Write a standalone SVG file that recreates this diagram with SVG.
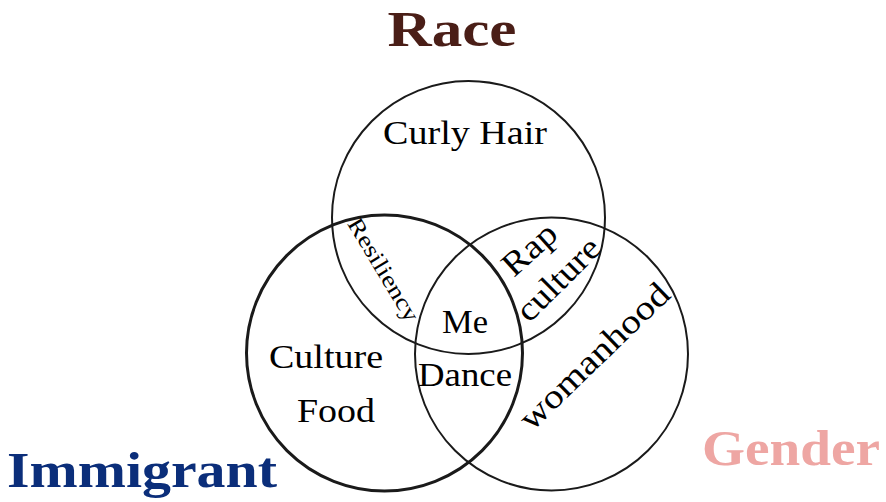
<svg xmlns="http://www.w3.org/2000/svg" width="886" height="502" viewBox="0 0 886 502">
<style>
.c{fill:none;stroke:#1a1a1a}
.t{font-family:"Liberation Serif","Times New Roman",serif;font-size:34px;fill:#000;text-anchor:middle}
.h{font-family:"Liberation Serif","Times New Roman",serif;font-weight:bold;font-size:51px;text-anchor:middle}
</style>
<rect width="886" height="502" fill="#fff"/>
<g id="circles">
<g id="race-circle"><circle class="c" cx="468.5" cy="217.5" r="136.5" stroke-width="2"/></g>
<g id="gender-circle"><circle class="c" cx="551.5" cy="354" r="136.5" stroke-width="2"/></g>
<g id="immigrant-circle"><circle class="c" cx="384.5" cy="353" r="138" stroke-width="3"/></g>
</g>
<g id="connectors"></g>
<g id="titles">
<text id="race" class="h" x="452" y="46" fill="#4a1e17" textLength="129" lengthAdjust="spacingAndGlyphs">Race</text>
<text id="immigrant" class="h" x="142" y="487" fill="#0b2e7a" textLength="270" lengthAdjust="spacingAndGlyphs">Immigrant</text>
<text id="gender" class="h" x="791" y="465" fill="#eea6a3" textLength="178" lengthAdjust="spacingAndGlyphs">Gender</text>
</g>
<g id="labels">
<text class="t" x="465" y="144" textLength="164" lengthAdjust="spacingAndGlyphs">Curly Hair</text>
<text class="t" x="465" y="333" textLength="46" lengthAdjust="spacingAndGlyphs">Me</text>
<text class="t" x="465" y="386" textLength="94" lengthAdjust="spacingAndGlyphs">Dance</text>
<text class="t" x="326" y="368" textLength="114" lengthAdjust="spacingAndGlyphs">Culture</text>
<text class="t" x="336" y="422" textLength="78" lengthAdjust="spacingAndGlyphs">Food</text>
<text class="t" transform="translate(383,270) rotate(59)" x="0" y="7" style="font-size:23px" textLength="117" lengthAdjust="spacingAndGlyphs">Resiliency</text>
<text class="t" transform="translate(530,250) rotate(-42)" x="0" y="10" textLength="62" lengthAdjust="spacingAndGlyphs">Rap</text>
<text class="t" transform="translate(559,280) rotate(-45)" x="0" y="10" textLength="104" lengthAdjust="spacingAndGlyphs">culture</text>
<text class="t" transform="translate(595,357) rotate(-44)" x="0" y="10" textLength="195" lengthAdjust="spacingAndGlyphs">womanhood</text>
</g>
</svg>
